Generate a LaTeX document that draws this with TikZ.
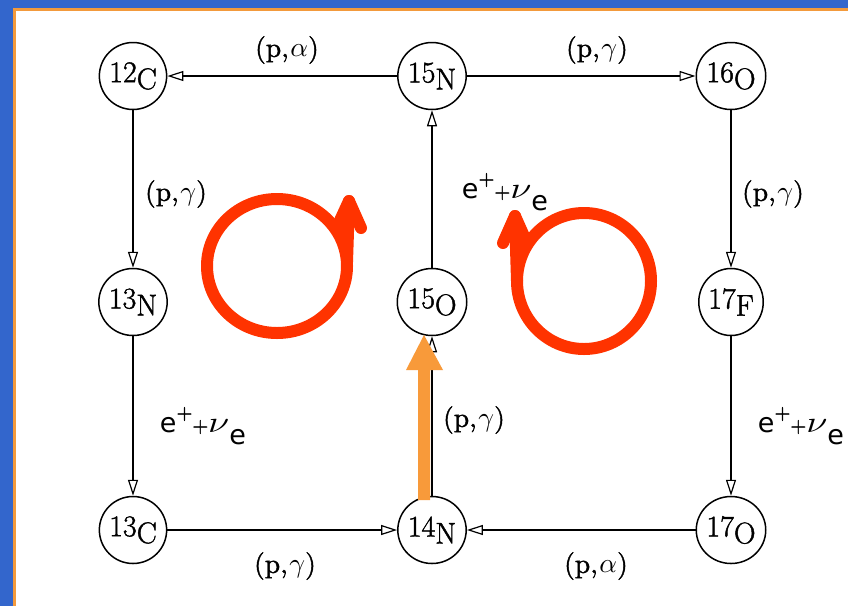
\documentclass[tikz,border=0pt]{standalone}
\usepackage{fontspec}
\setmainfont{Latin Modern Roman}[FakeBold=1.4]
\newfontfamily\esans{DejaVu Sans}
\usetikzlibrary{arrows.meta,shapes.geometric}
\definecolor{frameblue}{HTML}{3366CC}
\definecolor{frameorange}{HTML}{F39A3C}
\definecolor{loopred}{HTML}{FF3300}
\definecolor{arrorange}{HTML}{F89A3A}
\newcommand{\nucl}[2]{{\fontsize{30}{33}\selectfont #1}\raisebox{-7pt}{\fontsize{30}{33}\selectfont #2}}
\newcommand{\enu}{{\fontsize{27}{30}\selectfont\esans e}\raisebox{13pt}{\fontsize{22}{26}\selectfont +}{\fontsize{22}{26}\selectfont +}\scalebox{3.8}[3.0]{\normalsize$\nu$}\raisebox{-12pt}{\fontsize{27}{30}\selectfont\esans e}}
\newcommand{\reac}[1]{\scalebox{2.75}{\normalsize(p,\kern0.6pt$#1$)}}
\begin{document}
\begin{tikzpicture}[x=1pt,y=-1pt,
  nuc/.style={draw,ellipse,line width=1.5pt,minimum width=64pt,minimum height=67pt,inner sep=0pt},
  lbl/.style={inner sep=0pt},
  conn/.style={line width=1.2pt,-{Triangle[open,length=16pt,width=10pt,line width=1.2pt]}},
  loop/.style={loopred,line width=12pt,line cap=round,line join=round}]
\useasboundingbox (0,0) rectangle (848,606);
\fill[frameblue] (0,0) rectangle (848,606);
\fill[frameorange] (13,8) rectangle (848,606);
\fill[white] (15.5,10.5) rectangle (848,606);
% nodes
\node[nuc] (c12) at (133,76) {\nucl{12}{C}};
\node[nuc] (n15) at (432,76) {\nucl{15}{N}};
\node[nuc] (o16) at (731,76) {\nucl{16}{O}};
\node[nuc] (n13) at (133,302) {\nucl{13}{N}};
\node[nuc] (o15) at (432,302) {\nucl{15}{O}};
\node[nuc] (f17) at (731,302) {\nucl{17}{F}};
\node[nuc] (c13) at (133,530) {\nucl{13}{C}};
\node[nuc] (n14) at (432,530) {\nucl{14}{N}};
\node[nuc] (o17) at (731,530) {\nucl{17}{O}};
% connectors
\draw[conn] (n15) -- (c12);
\draw[conn] (n15) -- (o16);
\draw[conn] (c12) -- (n13);
\draw[conn] (n13) -- (c13);
\draw[conn] (c13) -- (n14);
\draw[conn] (o17) -- (n14);
\draw[conn] (o16) -- (f17);
\draw[conn] (f17) -- (o17);
\draw[conn] (n14) -- (o15);
\draw[conn] (o15) -- (n15);
% labels
\node[lbl] (l1) at (287,50) {\reac{\alpha}};
\node[lbl] (l2) at (597,50) {\reac{\gamma}};
\node[lbl] (l3) at (176,194) {\reac{\gamma}};
\node[lbl] (l4) at (203,426) {\enu};
\node[lbl] (l5) at (505,192) {\enu};
\node[lbl] (l6) at (474,420) {\reac{\gamma}};
\node[lbl] (l7) at (773,194) {\reac{\gamma}};
\node[lbl] (l8) at (801,426) {\enu};
\node[lbl] (l9) at (285,566) {\reac{\gamma}};
\node[lbl] (l10) at (596,566) {\reac{\alpha}};
% red loops
\draw[loop] (277,266) ellipse [x radius=70, y radius=67];
\draw[loop] (347,262) -- (349,201);
\draw[loop] (337,227) -- (349,201) -- (361,228);
\draw[loop] (584,281) ellipse [x radius=67, y radius=68];
\draw[loop] (517,281) -- (515,216);
\draw[loop] (503,243) -- (515,216) -- (527,243);
% orange arrow
\fill[arrorange] (418,500) -- (430,500) -- (430,370) -- (443,370) -- (424,335) -- (406,370) -- (418,370) -- cycle;
\end{tikzpicture}
\end{document}
